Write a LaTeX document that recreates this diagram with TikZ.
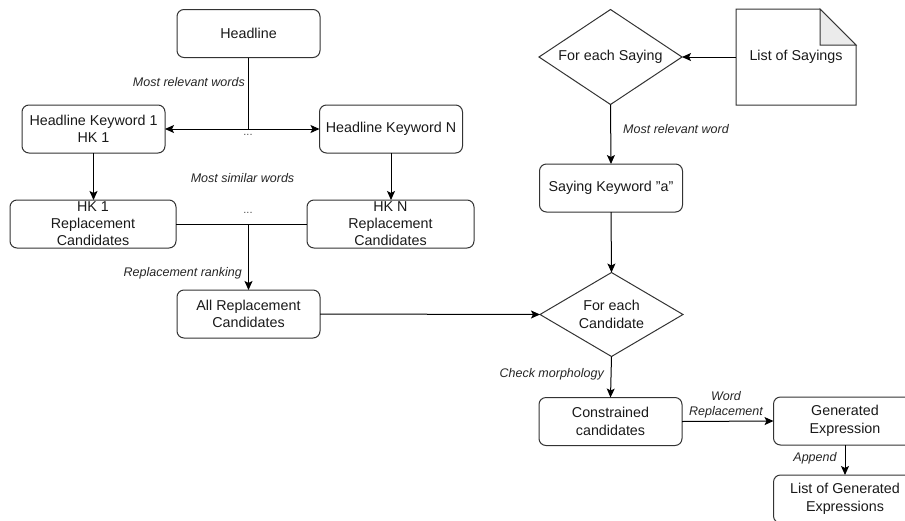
\documentclass[tikz,border=0pt]{standalone}
\usepackage{fontspec}
\setmainfont{Liberation Sans}
\usetikzlibrary{shapes.geometric,arrows.meta}

% font sizes for box texts and for the small italic edge tags
\newcommand{\boxfnt}{\fontsize{14.3}{17.5}\selectfont}
\newcommand{\tagfnt}{\fontsize{12.5}{15}\selectfont\itshape}

\begin{document}
\begin{tikzpicture}[x=1pt,y=-1pt,
  link/.style={draw=black, line width=1pt},
  arrow/.style={link, -{Stealth[length=9pt,width=8pt,inset=2pt]}},
  proc/.style={draw=black!80, line width=1pt, rounded corners=7pt,
    minimum width=143pt, minimum height=48pt, inner sep=0pt, outer sep=0pt,
    align=center, font=\boxfnt, text=black!90},
  decision/.style={draw=black!80, line width=1pt, diamond, shape aspect=1.5,
    minimum width=143pt, inner sep=0pt, outer sep=0pt,
    align=center, font=\boxfnt, text=black!90},
  tag/.style={inner sep=0pt, font=\tagfnt, text=black!85},
  dots/.style={inner sep=0pt, font=\fontsize{11}{13}\selectfont, text=black!70}]

\useasboundingbox (0,0) rectangle (905,520);

% left branch: headline keywords and their candidates
\node[proc] (head) at (248.5,33.5) {Headline};
\node[proc] (hk1) at (93.5,129) {Headline Keyword 1\\HK 1};
\node[proc] (hkn) at (391,129) {Headline Keyword N};
\node[proc, minimum width=166pt, font=\fontsize{14.3}{17}\selectfont] (rep1) at (93,224) {HK 1\\Replacement\\Candidates};
\node[proc, minimum width=167pt, font=\fontsize{14.3}{17}\selectfont] (repn) at (390.5,224) {HK N\\Replacement\\Candidates};
\node[proc] (allrep) at (248.5,314) {All Replacement\\Candidates};

% right branch: sayings loop
\node[decision, minimum height=95pt] (forsay) at (610.5,57) {For each Saying};
\node[minimum width=120pt, minimum height=96pt, inner sep=0pt, outer sep=0pt,
  font=\boxfnt, text=black!90] (sayings) at (796,57) {List of Sayings};
\node[proc] (saykw) at (611,188) {Saying Keyword {\char34}a{\char34}};
\node[decision, minimum height=84pt] (forcand) at (611.5,314.5) {For each\\Candidate};
\node[proc] (constr) at (610.5,421.5) {Constrained\\candidates};
\node[proc] (gen) at (845,421) {Generated\\Expression};
\node[proc] (list) at (845,499) {List of Generated\\Expressions};

% note outline with folded corner
\draw[draw=black!80, line width=1pt, line join=miter]
  (sayings.south west) -- (sayings.north west)
  -- ([xshift=-36pt]sayings.north east)
  -- ([yshift=-36pt]sayings.north east)
  -- (sayings.south east) -- cycle;
\filldraw[draw=black!80, fill=black!8, line width=1pt]
  ([xshift=-36pt]sayings.north east)
  -- ([xshift=-36pt,yshift=-36pt]sayings.north east)
  -- ([yshift=-36pt]sayings.north east) -- cycle;

% connectors
\coordinate (fork) at (head.south |- hk1.east);
\draw[link] (head.south) -- (fork);
\draw[arrow] (fork) -- (hk1.east);
\draw[arrow] (fork) -- (hkn.west);
\draw[arrow] (hk1.south) -- (hk1.south |- rep1.north);
\draw[arrow] (hkn.south) -- (hkn.south |- repn.north);
\draw[link] (rep1.east) -- (repn.west);
\coordinate (join) at (allrep.north |- rep1.east);
\draw[arrow] (join) -- (allrep.north);
\draw[arrow] (allrep.east) -- (forcand.west);
\draw[arrow] (sayings.west) -- (forsay.east);
\draw[arrow] (forsay.south) -- (saykw.north);
\draw[arrow] (saykw.south) -- (forcand.north);
\draw[arrow] (forcand.south) -- (constr.north);
\draw[arrow] (constr.east) -- (gen.west);
\draw[arrow] (gen.south) -- (list.north);

% edge tags
\node[tag, anchor=east] (t1) at (245,82) {Most relevant words};
\node[tag] (t2) at (242.5,178) {Most similar words};
\node[tag, anchor=east] (t3) at (242,273) {Replacement ranking};
\node[tag, anchor=west] (t4) at (623,129) {Most relevant word};
\node[tag, anchor=east] (t5) at (604,374) {Check morphology};
\node[tag, align=center] (t6) at (726,404.5) {Word\\Replacement};
\node[tag] (t7) at (815,458) {Append};
\node[dots] (d1) at (248,135) {...};
\node[dots] (d2) at (248,213) {...};
\end{tikzpicture}
\end{document}
